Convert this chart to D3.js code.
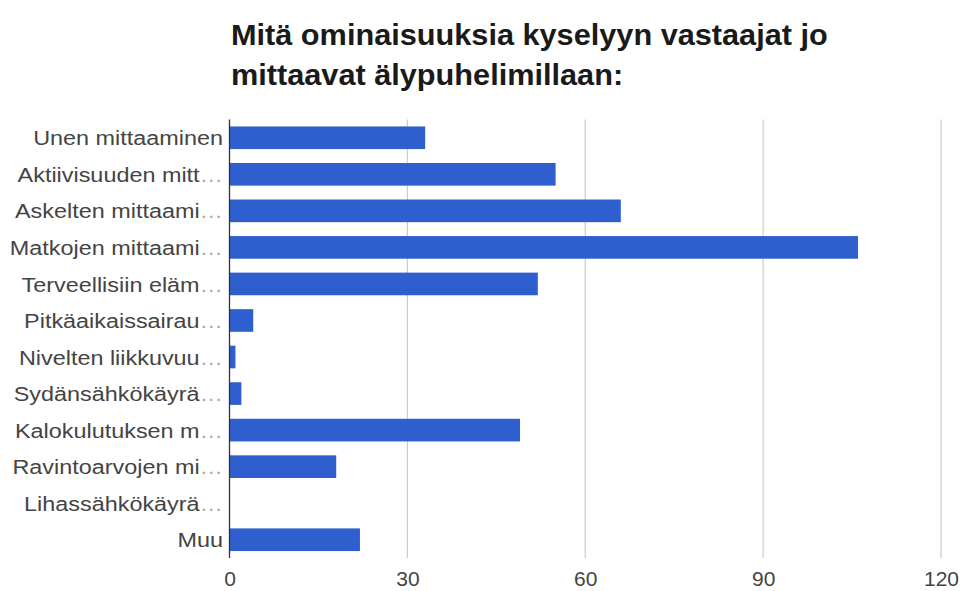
<!DOCTYPE html>
<html>
<head>
<meta charset="utf-8">
<script src="https://cdn.jsdelivr.net/npm/d3@7"></script>
<style>
  html, body { margin: 0; padding: 0; background: #fff; }
  svg { display: block; font-family: "Liberation Sans", Arial, sans-serif; }
</style>
</head>
<body>
<svg id="chart" width="964" height="591"></svg>
<script>
// Survey: which features respondents already measure with their smartphones
const titleLines = ["Mitä ominaisuuksia kyselyyn vastaajat jo", "mittaavat älypuhelimillaan:"];
const categories = [
  "Unen mittaaminen",
  "Aktiivisuuden mitt",
  "Askelten mittaami",
  "Matkojen mittaami",
  "Terveellisiin eläm",
  "Pitkäaikaissairau",
  "Nivelten liikkuvuu",
  "Sydänsähkökäyrä",
  "Kalokulutuksen m",
  "Ravintoarvojen mi",
  "Lihassähkökäyrä",
  "Muu"
];
const truncated = [false, true, true, true, true, true, true, true, true, true, true, false];
const values = [33, 55, 66, 106, 52, 4, 1, 2, 49, 18, 0, 22];
const xTicks = [0, 30, 60, 90, 120];

const svg = d3.select("#chart");
const plot = { left: 229.5, right: 941, top: 119.5, bottom: 558 };

const x = d3.scaleLinear().domain([0, 120]).range([plot.left, plot.right]);
const y = d3.scaleBand().domain(categories).range([plot.top, plot.bottom]).paddingInner(0.38).paddingOuter(0.19);

// Title, slightly widened to the chart's title block
const titleG = svg.append("g");
const titleText = titleG.selectAll("text").data(titleLines).join("text")
  .attr("x", 0)
  .attr("y", 0)
  .attr("font-size", 29)
  .attr("font-weight", "bold")
  .attr("fill", "#1a1a1a")
  .text(d => d);
const titleW = titleText.nodes()[0].getComputedTextLength();
const titleScale = 597 / titleW;
titleText.attr("transform", (d, i) => `translate(231, ${45 + i * 40}) scale(${titleScale}, 1)`);

// Vertical gridlines
svg.append("g").selectAll("line").data(xTicks.filter(t => t > 0)).join("line")
  .attr("x1", d => x(d)).attr("x2", d => x(d))
  .attr("y1", plot.top).attr("y2", plot.bottom)
  .attr("stroke", "#cccccc").attr("stroke-width", 1.2);

// Bars
svg.append("g").selectAll("rect").data(values).join("rect")
  .attr("x", x(0))
  .attr("y", (d, i) => y(categories[i]))
  .attr("width", d => x(d) - x(0))
  .attr("height", y.bandwidth())
  .attr("fill", "#2f5fcf");

// Baseline at zero
svg.append("line")
  .attr("x1", x(0)).attr("x2", x(0))
  .attr("y1", plot.top).attr("y2", plot.bottom)
  .attr("stroke", "#333").attr("stroke-width", 1.3);

// Category labels (long ones shortened with an ellipsis)
const labels = svg.append("g").selectAll("text").data(categories).join("text")
  .attr("x", 0)
  .attr("y", 0)
  .attr("dy", "0.36em")
  .attr("text-anchor", "end")
  .attr("font-size", 21)
  .attr("fill", "#444");
labels.append("tspan").text(d => d);
labels.filter((d, i) => truncated[i]).append("tspan").attr("fill", "#aaa").text("…");
const labelW = labels.nodes()[0].getComputedTextLength();
const labelScale = 190 / labelW;
labels.attr("transform", d => `translate(223, ${y(d) + y.bandwidth() / 2}) scale(${labelScale}, 1)`);

// X axis tick labels
const xAxis = d3.axisBottom(x).tickValues(xTicks).tickSize(0).tickPadding(0);
const gx = svg.append("g").attr("transform", `translate(0, ${plot.bottom})`).call(xAxis);
gx.select(".domain").remove();
gx.selectAll("text")
  .attr("y", 28)
  .attr("dy", 0)
  .attr("font-size", 21)
  .attr("font-family", "Liberation Sans, Arial, sans-serif")
  .attr("fill", "#444");
</script>
</body>
</html>
